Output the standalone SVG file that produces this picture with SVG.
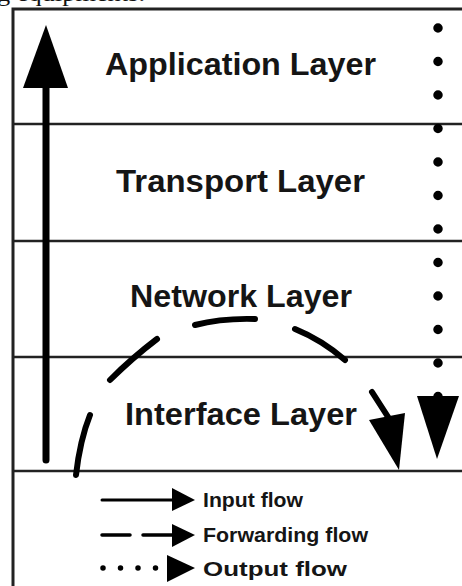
<svg xmlns="http://www.w3.org/2000/svg" width="462" height="586" viewBox="0 0 462 586">
  <style>
    .frame { stroke: #222; stroke-width: 3; fill: none; }
    .divider { stroke: #222; stroke-width: 2.5; fill: none; }
    .layer { font-family: "Liberation Sans", Arial, sans-serif; font-weight: bold; font-size: 31px; fill: #151515; }
    .legend-text { font-family: "Liberation Sans", Arial, sans-serif; font-weight: bold; font-size: 20.5px; fill: #151515; }
    .caption { font-family: "Liberation Serif", "Times New Roman", serif; font-size: 24px; fill: #111; }
    .flow { stroke: #000; fill: none; stroke-linecap: round; }
    .head { fill: #000; }
  </style>

  <rect x="0" y="0" width="462" height="586" fill="#fff"/>

  <!-- caption line above the figure, clipped by the top edge -->
  <text class="caption" x="-3" y="0.5" textLength="148" lengthAdjust="spacingAndGlyphs">g equipments.</text>

  <!-- outer frame and layer dividers -->
  <g id="frame">
    <path class="frame" d="M13 586 V9 H462"/>
  </g>

  <g id="application-layer">
    <line class="divider" x1="13" y1="124" x2="462" y2="124"/>
    <text class="layer" x="105" y="75" textLength="271" lengthAdjust="spacingAndGlyphs">Application Layer</text>
  </g>
  <g id="transport-layer">
    <line class="divider" x1="13" y1="241" x2="462" y2="241"/>
    <text class="layer" x="116" y="192" textLength="249" lengthAdjust="spacingAndGlyphs">Transport Layer</text>
  </g>
  <g id="network-layer">
    <line class="divider" x1="13" y1="357" x2="462" y2="357"/>
    <text class="layer" x="130" y="307" textLength="222" lengthAdjust="spacingAndGlyphs">Network Layer</text>
  </g>
  <g id="interface-layer">
    <line class="divider" x1="13" y1="471" x2="462" y2="471"/>
    <text class="layer" x="125" y="425" textLength="232" lengthAdjust="spacingAndGlyphs">Interface Layer</text>
  </g>

  <!-- flows through the stack -->
  <g id="connectors">
    <!-- input flow: solid, upward -->
    <g id="input-flow">
      <line class="flow" x1="46" y1="460" x2="46" y2="84" stroke-width="7"/>
      <polygon class="head" points="46,25 23,88 68,88"/>
    </g>
    <!-- output flow: dotted, downward -->
    <g id="output-flow">
      <path class="flow" d="M438 28 V397" stroke-width="9.5" stroke-dasharray="0 33.5"/>
      <polygon class="head" points="417,396 459,396 437,459"/>
    </g>
    <!-- forwarding flow: dashed arc through the network layer -->
    <g id="forwarding-flow">
      <path class="flow" stroke-width="6" d="M76 475 Q80 440 90 415 M110 380 Q132 358 157 339 M195 325 Q222 318 255 319 M295 329 Q322 340 345 360 M372 392 L390 420"/>
      <polygon class="head" points="369,420 405,413 399,470"/>
    </g>
  </g>

  <!-- legend -->
  <g id="legend">
    <g id="legend-input">
      <line class="flow" x1="102" y1="500" x2="174" y2="500" stroke-width="3" stroke-linecap="butt"/>
      <polygon class="head" points="172,488 195,500 172,511"/>
      <text class="legend-text" x="203" y="507" textLength="100" lengthAdjust="spacingAndGlyphs">Input flow</text>
    </g>
    <g id="legend-forwarding">
      <path class="flow" d="M102 535 H130 M143 535 H174" stroke-width="3.5" stroke-linecap="butt"/>
      <polygon class="head" points="172,524 195,535 172,547"/>
      <text class="legend-text" x="203" y="542" textLength="165" lengthAdjust="spacingAndGlyphs">Forwarding flow</text>
    </g>
    <g id="legend-output">
      <path class="flow" d="M103 568 H156" stroke-width="5.5" stroke-dasharray="0 17.5"/>
      <polygon class="head" points="167,555 195,568 167,582"/>
      <text class="legend-text" x="203" y="576" textLength="144" lengthAdjust="spacingAndGlyphs">Output flow</text>
    </g>
  </g>
</svg>
